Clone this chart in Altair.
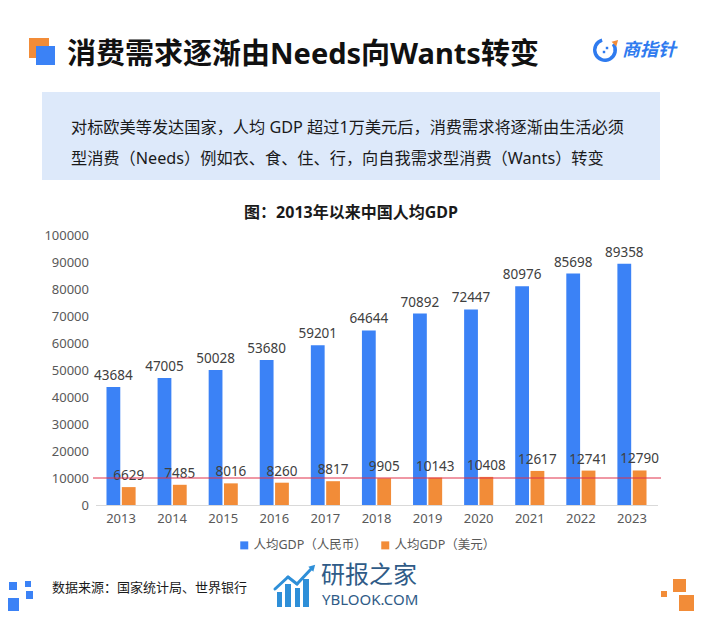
import altair as alt
import pandas as pd

years = ["2013", "2014", "2015", "2016", "2017", "2018", "2019", "2020", "2021", "2022", "2023"]
gdp_rmb = [43684, 47005, 50028, 53680, 59201, 64644, 70892, 72447, 80976, 85698, 89358]
gdp_usd = [6629, 7485, 8016, 8260, 8817, 9905, 10143, 10408, 12617, 12741, 12790]
series_names = ["人均GDP（人民币）", "人均GDP（美元）"]
y_ticks = [0, 10000, 20000, 30000, 40000, 50000, 60000, 70000, 80000, 90000, 100000]
threshold = 10000

title_text = "消费需求逐渐由Needs向Wants转变"
box_line1 = "对标欧美等发达国家，人均 GDP 超过1万美元后，消费需求将逐渐由生活必须"
box_line2 = "型消费（Needs）例如衣、食、住、行，向自我需求型消费（Wants）转变"
chart_title = "图：2013年以来中国人均GDP"
source_text = "数据来源：国家统计局、世界银行"
logo_text = "商指针"
wm_text1 = "研报之家"
wm_text2 = "YBLOOK.COM"

FONT = "Noto Sans, Noto Sans CJK SC"
BLUE = "#3B82F6"
ORANGE = "#F28C38"

rows = []
for y, r, u in zip(years, gdp_rmb, gdp_usd):
    rows.append({"year": y, "series": series_names[0], "value": r})
    rows.append({"year": y, "series": series_names[1], "value": u})
df = pd.DataFrame(rows)

# plot area geometry (page coords)
PX, PY = 95.5, 235.0
W, H = 562, 270


def X(rx):
    return rx - PX


def Y(ry):
    return ry - PY


one = pd.DataFrame({"k": [0]})

x_axis = alt.Axis(title=None, labelFontSize=13, labelColor="#595959",
                  labelAngle=0, ticks=False, domainColor="#D9D9D9",
                  labelPadding=7, labelFont=FONT)
y_axis = alt.Axis(title=None, values=y_ticks, format="d", labelOverlap=False,
                  grid=False, domain=False, ticks=False,
                  labelFontSize=13, labelColor="#595959",
                  labelPadding=7, labelFont=FONT)
x_scale = alt.Scale(paddingInner=0.43, paddingOuter=0.215)
y_scale = alt.Scale(domain=[0, 100000], nice=False)
off_scale = alt.Scale(paddingInner=0.1, paddingOuter=0)

x_enc = alt.X("year:N", sort=years, scale=x_scale, axis=x_axis)
xoff = alt.XOffset("series:N", sort=series_names, scale=off_scale)
y_enc = alt.Y("value:Q", scale=y_scale, axis=y_axis)

bars = alt.Chart(df).mark_bar().encode(
    x=x_enc, xOffset=xoff, y=y_enc,
    color=alt.Color("series:N", sort=series_names,
                    scale=alt.Scale(domain=series_names, range=[BLUE, ORANGE]),
                    legend=alt.Legend(orient="none", legendX=X(238), legendY=Y(539),
                                      direction="horizontal", title=None,
                                      symbolType="square", symbolSize=64,
                                      symbolStrokeWidth=0, labelFontSize=12.5,
                                      labelColor="#595959", labelFont=FONT,
                                      columnPadding=12, labelOffset=3, padding=0)),
)

labels = alt.Chart(df).mark_text(baseline="bottom", dy=-4, fontSize=13.5,
                                 color="#404040", font=FONT).encode(
    x=x_enc, xOffset=xoff, y=y_enc,
    text=alt.Text("value:Q", format="d"),
)

red_line = alt.Chart(one).mark_rule(color="#E0304A", strokeWidth=1).encode(
    y=alt.YDatum(threshold, scale=y_scale, axis=y_axis),
    x=alt.value(X(93)), x2=alt.value(X(661)))


def rect(x1, y1, x2, y2, color, opacity=1.0):
    return alt.Chart(one).mark_rect(color=color, opacity=opacity).encode(
        x=alt.value(X(x1)), x2=alt.value(X(x2)), y=alt.value(Y(y1)), y2=alt.value(Y(y2)))


def text(s, x, y, size, color="#1A1A1A", weight="normal", align="left", style="normal"):
    return alt.Chart(one).mark_text(align=align, baseline="middle", fontSize=size,
                                    fontWeight=weight, color=color, font=FONT,
                                    fontStyle=style).encode(
        x=alt.value(X(x)), y=alt.value(Y(y)), text=alt.value(s))


def seg(x1, y1, x2, y2, color, w):
    return alt.Chart(one).mark_rule(color=color, strokeWidth=w, strokeCap="round").encode(
        x=alt.value(X(x1)), x2=alt.value(X(x2)), y=alt.value(Y(y1)), y2=alt.value(Y(y2)))


deco = [
    rect(29, 38, 49, 58, "#F28C38"),
    rect(36, 46, 55, 65, "#3B82F6"),
    text(title_text, 67, 55, 29, "#111111", "bold"),
    # logo
    alt.Chart(one).mark_arc(color="#2F7BEF").encode(
        x=alt.value(X(605)), y=alt.value(Y(50)), theta=alt.value(0.95), theta2=alt.value(6.0),
        radius=alt.value(12), radius2=alt.value(8.5)),
    alt.Chart(one).mark_point(shape="triangle-up", filled=True, color="#F28C38",
                              opacity=1, angle=45, size=45).encode(
        x=alt.value(X(616)), y=alt.value(Y(42))),
    alt.Chart(one).mark_point(shape="square", filled=True, color="#2F7BEF",
                              opacity=1, size=6).encode(x=alt.value(X(607)), y=alt.value(Y(48))),
    alt.Chart(one).mark_point(shape="square", filled=True, color="#2F7BEF",
                              opacity=1, size=6).encode(x=alt.value(X(604)), y=alt.value(Y(52))),
    text(logo_text, 622, 51, 18, "#2F7BEF", "bold", style="italic"),
    # text box
    rect(42, 92, 660, 180, "#DDE9FA"),
    text(box_line1, 71, 128, 16.2, "#1A1A1A"),
    text(box_line2, 71, 159, 16.2, "#1A1A1A"),
    text(chart_title, 351, 213, 16, "#1A1A1A", "bold", align="center"),
    # footer decorations
    rect(9, 582, 17, 590, "#3B82F6"),
    rect(25, 581, 31, 587, "#3B82F6"),
    rect(26, 591, 33, 599, "#3B82F6"),
    rect(0, 598, 19, 619, "#3B82F6"),
    rect(673, 579, 686, 592, "#F28C38"),
    rect(661, 591, 667, 597, "#F28C38"),
    rect(679, 595, 700, 619, "#F28C38"),
    text(source_text, 52, 588, 13, "#1A1A1A"),
    # watermark
    rect(277, 592, 282, 607, "#2E8FD8"),
    rect(285, 584, 291, 607, "#2E8FD8"),
    rect(295, 588, 300, 607, "#2E8FD8"),
    rect(303, 579, 309, 607, "#2E8FD8"),
    seg(275, 589, 288, 577, "#2E8FD8", 3),
    seg(288, 577, 297, 584, "#2E8FD8", 3),
    seg(297, 584, 312, 568, "#2E8FD8", 3),
    alt.Chart(one).mark_point(shape="triangle-up", filled=True, color="#2E8FD8",
                              opacity=1, angle=45, size=50).encode(
        x=alt.value(X(313)), y=alt.value(Y(567))),
    text(wm_text1, 321, 576, 24, "#2F5B87"),
    text(wm_text2, 322, 600, 15, "#2F5B87"),
]

chart = alt.layer(*deco, bars, labels, red_line).properties(
    width=W, height=H,
    padding={"left": PX - 8, "top": PY - 8, "right": 686 - (PX - 8) - W,
             "bottom": 603 - (PY - 8) - H},
    autosize=alt.AutoSizeParams(type="none"),
    background="white",
).configure_view(stroke=None)

chart.save("out.html", embed_options={"renderer": "svg", "actions": False})
